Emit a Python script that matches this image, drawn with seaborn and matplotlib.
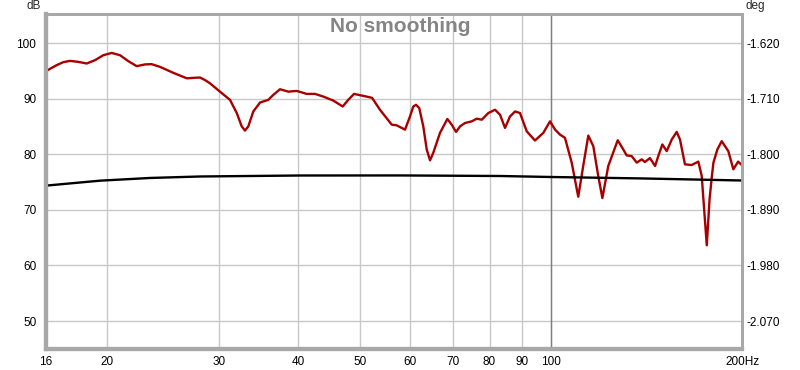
import numpy as np
import pandas as pd
import matplotlib
matplotlib.use('Agg')
import matplotlib.pyplot as plt
import seaborn as sns

# magnitude trace (Hz, dB)
freq_hz = [16.0, 16.63, 17.04, 17.46, 17.99, 18.55, 19.11, 19.70, 20.31, 20.93,
           21.57, 22.24, 22.92, 23.47, 24.19, 25.38, 26.67, 27.48, 27.98, 28.49,
           29.01, 30.08, 31.20, 31.97, 32.55, 32.94, 33.34, 33.95, 34.79, 35.85,
           36.50, 37.40, 38.56, 39.75, 41.21, 42.48, 43.77, 45.37, 46.96, 47.92,
           48.93, 51.23, 52.24, 53.76, 56.10, 57.13, 58.88, 59.95, 60.67, 61.28,
           62.00, 62.91, 63.70, 64.47, 65.24, 66.85, 68.65, 69.74, 70.86, 71.89,
           73.22, 75.01, 76.38, 77.79, 79.66, 81.63, 83.12, 84.64, 86.19, 87.78,
           89.36, 91.57, 94.35, 97.25, 99.65, 101.5, 103.3, 105.2, 107.8, 110.4,
           112.4, 114.5, 116.6, 118.7, 120.5, 123.1, 127.4, 130.0, 131.6, 134.0,
           136.5, 139.0, 140.6, 143.2, 145.9, 147.6, 149.8, 152.2, 155.0, 157.8,
           159.7, 162.6, 166.6, 170.7, 172.8, 176.0, 177.8, 179.2, 180.3, 182.9,
           185.8, 190.3, 193.8, 197.2, 200.0]
spl_db = [95.0, 96.07, 96.61, 96.84, 96.66, 96.37, 96.96, 97.86, 98.27, 97.86,
          96.79, 95.89, 96.20, 96.25, 95.77, 94.70, 93.70, 93.80, 93.84, 93.39,
          92.80, 91.30, 89.82, 87.45, 85.05, 84.29, 85.05, 87.73, 89.34, 89.82,
          90.71, 91.73, 91.30, 91.43, 90.89, 90.89, 90.41, 89.70, 88.63, 89.82,
          90.89, 90.41, 90.18, 88.04, 85.36, 85.23, 84.46, 86.84, 88.63, 88.93,
          88.34, 85.05, 80.89, 78.93, 80.30, 83.88, 86.38, 85.36, 84.05, 85.05,
          85.66, 85.95, 86.43, 86.25, 87.45, 88.04, 87.14, 84.77, 86.84, 87.73,
          87.45, 84.16, 82.50, 83.88, 85.95, 84.46, 83.57, 82.98, 78.52, 72.38,
          77.91, 83.39, 81.48, 76.13, 72.14, 77.91, 82.55, 80.89, 79.82, 79.70,
          78.52, 79.11, 78.63, 79.34, 77.91, 79.70, 81.79, 80.59, 82.68, 84.05,
          82.68, 78.21, 78.09, 78.70, 76.13, 63.63, 71.96, 75.84, 78.52, 80.89,
          82.38, 80.59, 77.32, 78.70, 78.04]

# phase trace (Hz, deg)
phase_freq = [16.0, 19.45, 23.33, 27.98, 40.23, 57.82, 83.12, 99.65, 138.2, 200.0]
phase_deg = [-1.8506, -1.8426, -1.8382, -1.8358, -1.8342, -1.8341, -1.8350,
             -1.8366, -1.8389, -1.8423]

x_ticks = [16, 20, 30, 40, 50, 60, 70, 80, 90, 100, 200]
x_labels = ['16', '20', '30', '40', '50', '60', '70', '80', '90', '100', '200Hz']
db_ticks = [50, 60, 70, 80, 90, 100]
deg_ticks = [-1.62, -1.71, -1.80, -1.89, -1.98, -2.07]

sns.set_style('white')
plt.rcParams['font.family'] = ['Liberation Sans', 'DejaVu Sans']
plt.rcParams['axes.unicode_minus'] = False

mag = pd.DataFrame({'freq': freq_hz, 'spl': spl_db})
phase = pd.DataFrame({'freq': phase_freq, 'deg': phase_deg})

fig = plt.figure(figsize=(8, 3.7), dpi=100)
ax = fig.add_axes([46 / 800, 21 / 370, 696 / 800, 335 / 370])

ax.set_xscale('log')
ax.set_xlim(16, 200)
ax.set_ylim(44.96, 105.28)
ax.set_xticks(x_ticks)
ax.set_xticklabels(x_labels)
ax.minorticks_off()
ax.set_yticks(db_ticks)
ax.grid(True, color='#c8c8c8', lw=1)
ax.axvline(100, color='#808080', lw=1)

sns.lineplot(data=mag, x='freq', y='spl', ax=ax, color='#a80000', lw=1.7, zorder=3)
ax.set_xlabel('')
ax.set_ylabel('')

ax2 = ax.twinx()
# right axis is tied to the left one: 10 dB <-> 0.09 deg
lo, hi = ax.get_ylim()
ax2.set_ylim(-1.62 - (100 - lo) * 0.009, -1.62 - (100 - hi) * 0.009)
ax2.set_yticks(deg_ticks)
ax2.set_yticklabels([f'{v:.3f}' for v in deg_ticks])
sns.lineplot(data=phase, x='freq', y='deg', ax=ax2, color='black', lw=1.7)
ax2.set_xlabel('')
ax2.set_ylabel('')
ax2.set_xlim(16, 200)

for a in (ax, ax2):
    for side, sp in a.spines.items():
        sp.set_color('#a8a8a8')
        sp.set_linewidth(3 if side in ('left', 'bottom') else 2)

ax.tick_params(axis='both', length=0, labelsize=8.5, colors='black')
ax.tick_params(axis='y', pad=7)
ax.tick_params(axis='x', pad=5)
ax2.tick_params(axis='y', length=0, labelsize=8.5, pad=3, colors='black')

fig.text(400 / 800, 1 - 26 / 370, 'No smoothing', ha='center', va='center',
         fontsize=15, fontweight='bold', color='#858585')
fig.text(34 / 800, 1 - 6 / 370, 'dB', ha='center', va='center', fontsize=8.5)
fig.text(755 / 800, 1 - 6 / 370, 'deg', ha='center', va='center', fontsize=8.5)

fig.savefig('out.png', dpi=100)
